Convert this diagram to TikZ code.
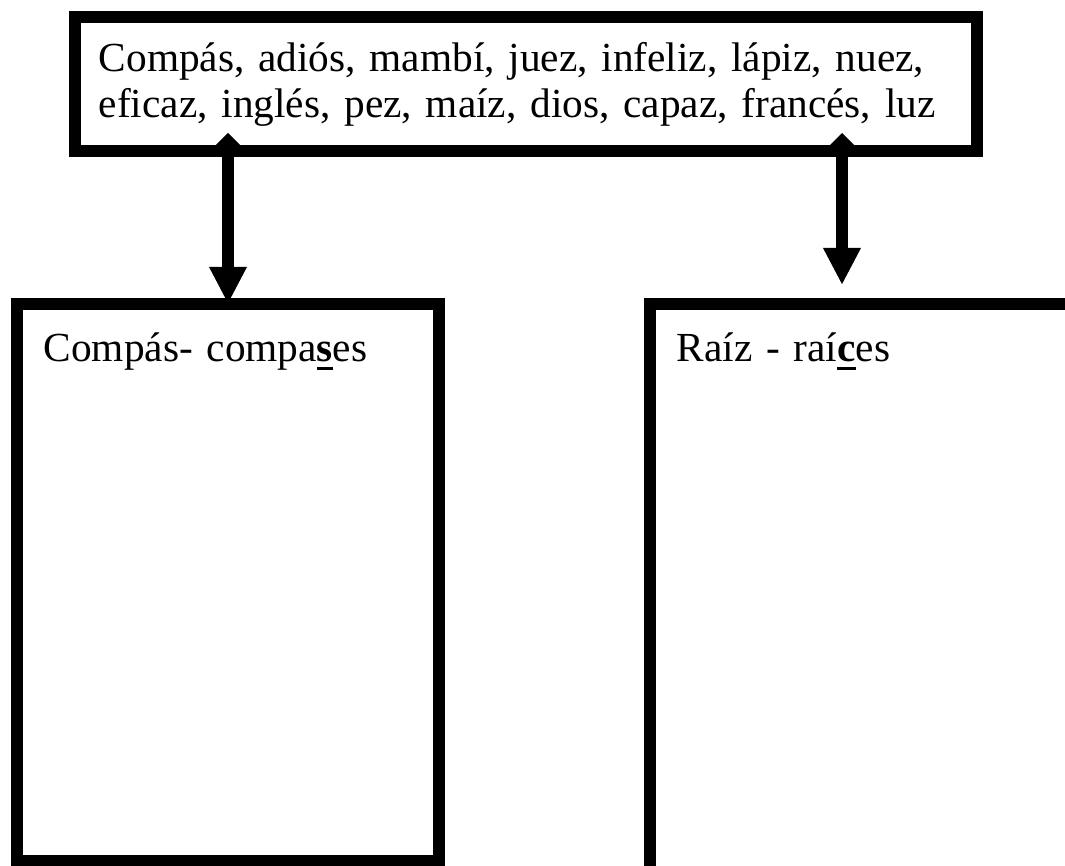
\documentclass[tikz,border=0pt]{standalone}
\usepackage{fontspec}
\setmainfont{Liberation Serif}
\usetikzlibrary{arrows.meta}

\newsavebox{\letrabox}
\newcommand{\subr}[1]{\sbox{\letrabox}{\bfseries #1}\rlap{\rule[-6pt]{\wd\letrabox}{2.4pt}}\usebox{\letrabox}}

\tikzset{
	caja/.style={shape=rectangle,draw=black,line width=9pt,outer sep=0pt,inner xsep=20pt,font=\fontsize{31}{34.5}\selectfont,align=left},
	hoja/.style={caja,anchor=north west,inner ysep=10pt,text height=33.5pt},
	flecha/.style={line width=9pt,shorten <=-13.5pt,{Diamond[length=20.25pt,width=20.25pt]}-{Triangle[length=27.75pt,width=26.25pt]}}
}

\begin{document}
\begin{tikzpicture}[x=0.75pt,y=-0.75pt]
	\clip (0,0) rectangle (1065,866);
	\node [caja,inner xsep=18pt,minimum width=676.5pt,minimum height=100.5pt,text width=640pt] (P) at (525.5,84) {Compás, adiós, mambí, juez, infeliz, lápiz, nuez,\\eficaz, inglés, pez, maíz, dios, capaz, francés, luz};
	\node [hoja,text width=276.5pt,text depth=364.25pt] (S) at (17,304) {Compás- compa\subr{s}es};
	\node [hoja,text width=400pt,text depth=500pt] (C) at (650,304) {Raíz - raí\subr{c}es};
	\coordinate (F) at (842,285);

	\path (P.south -| S.north) edge [flecha] (S.north);
	\path (P.south -| F) edge [flecha] (F);
\end{tikzpicture}
\end{document}
